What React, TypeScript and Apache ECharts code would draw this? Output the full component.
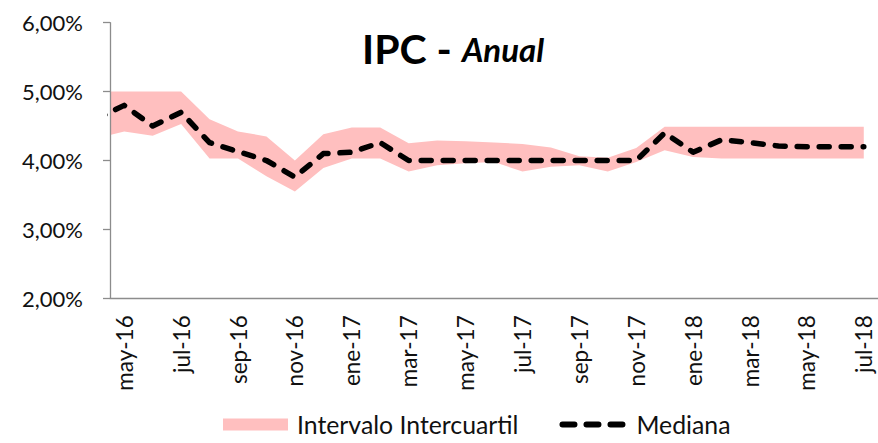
import React, { useEffect, useRef } from 'react';
import * as echarts from 'echarts';

// Axis categories (monthly, may-16 .. jul-18)
const categories = [
  'may-16', 'jun-16', 'jul-16', 'ago-16', 'sep-16', 'oct-16', 'nov-16', 'dic-16',
  'ene-17', 'feb-17', 'mar-17', 'abr-17', 'may-17', 'jun-17', 'jul-17', 'ago-17',
  'sep-17', 'oct-17', 'nov-17', 'dic-17', 'ene-18', 'feb-18', 'mar-18', 'abr-18',
  'may-18', 'jun-18', 'jul-18',
];
// Data months: the series begins one month before the axis (abr-16, clipped at the axis)
const dataMonths = ['abr-16', ...categories];

// Values in percent
const mediana = [
  4.6, 4.8, 4.5, 4.7, 4.26, 4.13, 4.0, 3.76, 4.1, 4.12, 4.26, 4.0, 4.0, 4.0,
  4.0, 4.0, 4.0, 4.0, 4.0, 4.0, 4.4, 4.12, 4.3, 4.26, 4.21, 4.2, 4.2, 4.2,
];
const cuartil3 = [
  5.0, 5.0, 5.0, 5.0, 4.6, 4.42, 4.35, 4.0, 4.38, 4.48, 4.48, 4.25, 4.29, 4.28,
  4.26, 4.24, 4.19, 4.06, 4.04, 4.18, 4.49, 4.49, 4.49, 4.49, 4.49, 4.49, 4.49, 4.49,
];
const cuartil1 = [
  4.32, 4.42, 4.36, 4.53, 4.03, 4.03, 3.77, 3.55, 3.89, 4.03, 4.03, 3.84, 3.93, 3.96,
  3.98, 3.84, 3.91, 3.93, 3.84, 3.98, 4.15, 4.05, 4.03, 4.03, 4.03, 4.03, 4.03, 4.03,
];
const yMin = 2;
const yMax = 6;
const yStep = 1;

const FONT = 'Lato, "Noto Sans", "DejaVu Sans", sans-serif';
const PINK = '#ffbfbf';
const AXIS = '#8c8c8c';
const TEXT = '#111111';

// clip a polygon to the vertical band xmin..xmax
function clipX(pts: number[][], xmin: number, xmax: number): number[][] {
  const clipEdge = (input: number[][], inside: (p: number[]) => boolean, xe: number) => {
    const out: number[][] = [];
    for (let i = 0; i < input.length; i++) {
      const cur = input[i];
      const prev = input[(i + input.length - 1) % input.length];
      const ci = inside(cur);
      const pi = inside(prev);
      if (ci !== pi) {
        const t = (xe - prev[0]) / (cur[0] - prev[0]);
        out.push([xe, prev[1] + t * (cur[1] - prev[1])]);
      }
      if (ci) out.push(cur);
    }
    return out;
  };
  let r = clipEdge(pts, (p) => p[0] >= xmin, xmin);
  r = clipEdge(r, (p) => p[0] <= xmax, xmax);
  return r;
}

export default function App() {
  const ref = useRef<HTMLDivElement>(null);
  useEffect(() => {
    document.body.style.margin = '0';
    const chart = echarts.init(ref.current as HTMLDivElement, null, { renderer: 'svg' });
    const lead = dataMonths.length - categories.length;
    const xOf = (i: number) => i - lead + 0.5; // month slot centre on numeric x scale
    const toPts = (arr: number[]) => arr.map((v, i) => [xOf(i), v]);
    const bandData = dataMonths.map((_, i) => [xOf(i), cuartil1[i], cuartil3[i]]);
    chart.setOption({
      animation: false,
      backgroundColor: '#ffffff',
      textStyle: { fontFamily: FONT },
      title: {
        text: '{a|IPC - }{b|Anual}',
        left: 357,
        top: 23,
        textStyle: {
          rich: {
            a: { fontFamily: FONT, fontWeight: 'bold', fontSize: 41, color: '#000' },
            b: { fontFamily: FONT, fontWeight: 'bold', fontStyle: 'italic', fontSize: 33, color: '#000' },
          },
        },
      },
      legend: {
        left: 223,
        top: 412,
        padding: 0,
        itemWidth: 65,
        itemHeight: 12,
        itemGap: 41,
        selectedMode: false,
        textStyle: { fontSize: 24.8, color: TEXT, fontFamily: FONT, padding: [0, 0, 0, 4] },
        data: [
          { name: 'Intervalo Intercuartil', icon: 'rect', itemStyle: { color: PINK, borderWidth: 0 } },
          {
            name: 'Mediana',
            itemStyle: { opacity: 0 },
            lineStyle: { width: 6, type: [12, 12], cap: 'round', color: '#000' },
          },
        ],
      },
      grid: { left: 110, right: 0, top: 22.7, bottom: 144.7, containLabel: false },
      xAxis: [
        { type: 'value', min: 0, max: categories.length, show: false },
        {
          type: 'category',
          data: categories,
          boundaryGap: true,
          position: 'bottom',
          z: 10,
          axisLine: { onZero: false, lineStyle: { color: AXIS, width: 1.3 } },
          axisTick: { interval: 1, length: 7, lineStyle: { color: AXIS, width: 1.3 } },
          axisLabel: { interval: 1, rotate: 90, margin: 17, fontSize: 22.5, color: TEXT, fontFamily: FONT },
        },
      ],
      yAxis: {
        type: 'value',
        min: yMin,
        max: yMax,
        interval: yStep,
        z: 10,
        axisLine: { show: true, onZero: false, lineStyle: { color: AXIS, width: 1.3 } },
        axisTick: { show: true, length: 7, lineStyle: { color: AXIS, width: 1.3 } },
        splitLine: { show: false },
        axisLabel: {
          margin: 27,
          fontSize: 22,
          color: TEXT,
          fontFamily: FONT,
          formatter: (v: number) => v.toFixed(2).replace('.', ',') + '%',
        },
      },
      series: [
        {
          name: 'Intervalo Intercuartil',
          type: 'custom',
          xAxisIndex: 0,
          yAxisIndex: 0,
          data: bandData,
          encode: { x: 0, y: [1, 2] },
          color: PINK,
          silent: true,
          z: 2,
          renderItem: (params: any, api: any) => {
            if (params.dataIndex !== 0) return null;
            const pts: number[][] = [];
            for (let i = 0; i < bandData.length; i++) pts.push(api.coord([bandData[i][0], bandData[i][2]]));
            for (let i = bandData.length - 1; i >= 0; i--) pts.push(api.coord([bandData[i][0], bandData[i][1]]));
            const cs = params.coordSys;
            return {
              type: 'polygon',
              shape: { points: clipX(pts, cs.x, cs.x + cs.width) },
              style: { fill: PINK, stroke: null },
            };
          },
        },
        {
          name: 'Mediana',
          type: 'line',
          xAxisIndex: 0,
          data: toPts(mediana),
          symbol: 'none',
          color: '#000000',
          lineStyle: { color: '#000000', width: 5.5, type: [10, 12], cap: 'round', join: 'round' },
          clip: true,
          z: 4,
        },
      ],
    });
    return () => chart.dispose();
  }, []);
  return <div ref={ref} style={{ width: 878, height: 443 }} />;
}
